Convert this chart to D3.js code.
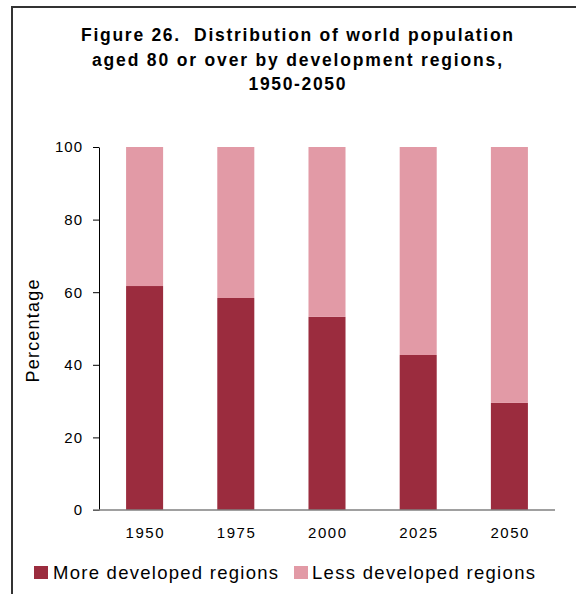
<!DOCTYPE html>
<html>
<head>
<meta charset="utf-8">
<script src="https://cdn.jsdelivr.net/npm/d3@7"></script>
<style>
  html, body { margin: 0; padding: 0; background: #fff; }
  svg { display: block; font-family: "Liberation Sans", Arial, sans-serif; }
  .title { white-space: pre; }
</style>
</head>
<body>
<svg id="chart" width="576" height="594"></svg>
<script>
// Share of the world population aged 80+ by development region (percent)
const years = ["1950", "1975", "2000", "2025", "2050"];
const moreDeveloped = [61.7, 58.4, 53.2, 42.7, 29.5];
const lessDeveloped = [38.3, 41.6, 46.8, 57.3, 70.5];
const yTicks = [0, 20, 40, 60, 80, 100];
const seriesNames = ["More developed regions", "Less developed regions"];
const seriesColors = ["#9b2c3e", "#e29aa6"];

const titleLines = [
  "Figure 26.  Distribution of world population",
  "aged 80 or over by development regions,",
  "1950-2050"
];

const svg = d3.select("#chart");

// outer frame (top and left edges inside the window)
svg.append("rect")
  .attr("x", 12).attr("y", 7)
  .attr("width", 600).attr("height", 620)
  .attr("fill", "none")
  .attr("stroke", "#333")
  .attr("stroke-width", 2);

// title
const titleWidths = [432, 410, 97];
svg.append("g").selectAll("text")
  .data(titleLines)
  .join("text")
  .attr("class", "title")
  .attr("x", 297)
  .attr("y", (d, i) => 41 + i * 24.5)
  .attr("text-anchor", "middle")
  .attr("font-size", 17.5)
  .attr("font-weight", "bold")
  .attr("fill", "#000")
  .attr("textLength", (d, i) => titleWidths[i])
  .attr("lengthAdjust", "spacing")
  .text(d => d);

const plot = { left: 99, right: 555, top: 147, bottom: 510 };

const x = d3.scaleBand()
  .domain(years)
  .range([plot.left, plot.right])
  .paddingInner(0.594)
  .paddingOuter(0.297);

const y = d3.scaleLinear()
  .domain([0, 100])
  .range([plot.bottom, plot.top]);

// stacked data
const rows = years.map((yr, i) => ({ year: yr, more: moreDeveloped[i], less: lessDeveloped[i] }));
const stack = d3.stack().keys(["more", "less"]);
const layers = stack(rows);

svg.append("g").selectAll("g")
  .data(layers)
  .join("g")
  .attr("fill", (d, i) => seriesColors[i])
  .selectAll("rect")
  .data(d => d)
  .join("rect")
  .attr("x", d => x(d.data.year))
  .attr("width", x.bandwidth())
  .attr("y", d => y(d[1]))
  .attr("height", d => y(d[0]) - y(d[1]));

// y axis
const yAxis = svg.append("g")
  .attr("transform", `translate(${plot.left},0)`)
  .call(d3.axisLeft(y).tickValues(yTicks).tickSize(6).tickPadding(11).tickSizeOuter(0));
yAxis.select(".domain").attr("stroke", "#000");
yAxis.selectAll(".tick line").attr("stroke", "#000");
yAxis.selectAll(".tick text")
  .attr("font-family", "Liberation Sans, Arial, sans-serif")
  .attr("font-size", 15)
  .attr("fill", "#000")
  .attr("letter-spacing", "1px")
  .attr("dx", "1px");

// x axis baseline
const xAxis = svg.append("g")
  .attr("transform", `translate(0,${plot.bottom})`)
  .call(d3.axisBottom(x).tickSize(0).tickPadding(17));
xAxis.select(".domain").remove();
xAxis.append("line")
  .attr("x1", plot.left - 6).attr("x2", plot.right)
  .attr("y1", 0).attr("y2", 0)
  .attr("stroke", "#808080")
  .attr("stroke-width", 1.3);
xAxis.selectAll(".tick text")
  .attr("font-family", "Liberation Sans, Arial, sans-serif")
  .attr("font-size", 15)
  .attr("fill", "#000")
  .attr("textLength", 38)
  .attr("lengthAdjust", "spacing");

// y axis title
svg.append("text")
  .attr("transform", "translate(39,331) rotate(-90)")
  .attr("text-anchor", "middle")
  .attr("font-size", 18)
  .attr("fill", "#000")
  .attr("textLength", 103)
  .attr("lengthAdjust", "spacing")
  .text("Percentage");

// legend
const legendItems = [
  { name: seriesNames[0], color: seriesColors[0], sx: 34, tx: 53, w: 225 },
  { name: seriesNames[1], color: seriesColors[1], sx: 294, tx: 312, w: 223 }
];
const legend = svg.append("g");
legend.selectAll("rect")
  .data(legendItems)
  .join("rect")
  .attr("x", d => d.sx).attr("y", 566)
  .attr("width", 14).attr("height", 13)
  .attr("fill", d => d.color);
legend.selectAll("text")
  .data(legendItems)
  .join("text")
  .attr("x", d => d.tx).attr("y", 579)
  .attr("font-size", 18.5)
  .attr("fill", "#000")
  .attr("textLength", d => d.w)
  .attr("lengthAdjust", "spacing")
  .text(d => d.name);
</script>
</body>
</html>
